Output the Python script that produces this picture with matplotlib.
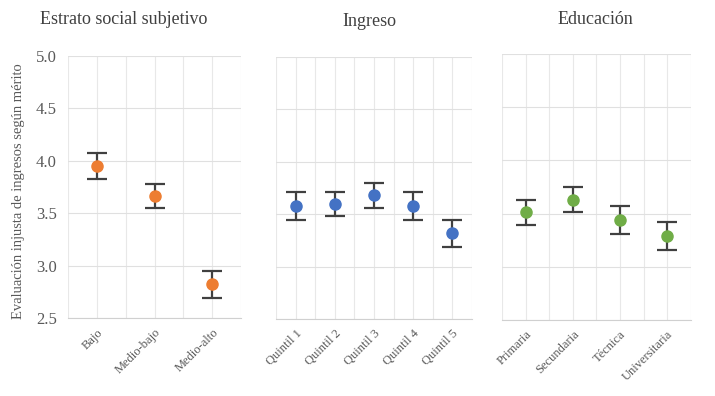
import matplotlib.pyplot as plt

# datos
estrato = ["Bajo", "Medio-bajo", "Medio-alto"]
estrato_media = [3.95, 3.66, 2.82]
estrato_err = [0.125, 0.115, 0.127]

ingreso = ["Quintil 1", "Quintil 2", "Quintil 3", "Quintil 4", "Quintil 5"]
ingreso_media = [3.58, 3.60, 3.68, 3.58, 3.32]
ingreso_err = [0.13, 0.115, 0.12, 0.135, 0.13]

educacion = ["Primaria", "Secundaria", "Técnica", "Universitaria"]
educacion_media = [3.51, 3.63, 3.44, 3.29]
educacion_err = [0.12, 0.115, 0.135, 0.135]

plt.rcParams['font.family'] = ['Liberation Serif', 'DejaVu Serif']

fig = plt.figure(figsize=(7.15, 3.96), dpi=100)

paneles = [
    ("Estrato social subjetivo", estrato, estrato_media, estrato_err, "#ED7D31",
     [0.0951, 0.197, 0.242, 0.662], (124, 20)),
    ("Ingreso", ingreso, ingreso_media, ingreso_err, "#4472C4",
     [0.386, 0.194, 0.274, 0.662], (369, 22)),
    ("Educación", educacion, educacion_media, educacion_err, "#70AD47",
     [0.702, 0.192, 0.264, 0.672], (595, 20)),
]

for i, (titulo, cats, media, err, color, rect, tpos) in enumerate(paneles):
    ax = fig.add_axes(rect)
    x = list(range(len(cats)))
    ax.errorbar(x, media, yerr=err, fmt='none', ecolor='#404040',
                elinewidth=1.6, capsize=7, capthick=1.6, zorder=3)
    ax.plot(x, media, 'o', color=color, markersize=8, zorder=4)
    ax.set_xlim(-0.5, len(cats) - 0.5)
    ax.set_ylim(2.5, 5.0)
    ax.set_yticks([2.5, 3.0, 3.5, 4.0, 4.5, 5.0])
    # lineas verticales en centros y bordes de cada categoria
    for k in range(2 * len(cats) + 1):
        ax.axvline(k * 0.5 - 0.5, color='#E8E8E8', lw=0.8, zorder=0)
    ax.set_xticks(x)
    ax.set_xticklabels(cats, rotation=45, ha='right', rotation_mode='anchor',
                       fontsize=9, color='#595959')
    ax.grid(True, axis='y', color='#E0E0E0', lw=0.8)
    ax.tick_params(which='both', length=0)
    ax.tick_params(axis='x', pad=6)
    for s in ['top', 'right', 'left']:
        ax.spines[s].set_visible(False)
    ax.spines['bottom'].set_color('#D0D0D0')
    ax.set_axisbelow(True)
    if i == 0:
        ax.set_yticklabels([f"{v:.1f}" for v in ax.get_yticks()],
                           fontsize=12, color='#595959')
        ax.tick_params(axis='y', pad=8)
    else:
        ax.set_yticklabels([])
    fig.text(tpos[0] / 715, 1 - tpos[1] / 396, titulo, ha='center', va='center',
             fontsize=13, color='#404040')

fig.text(19 / 715, 1 - 191 / 396, "Evaluación injusta de ingresos según mérito",
         rotation=90, ha='center', va='center', fontsize=10.5, color='#595959')

fig.savefig("out.png", dpi=100)
